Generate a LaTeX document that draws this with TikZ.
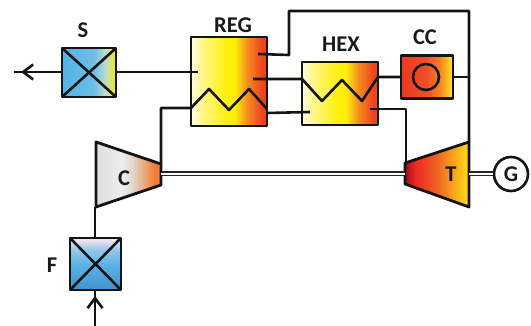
\documentclass[tikz,border=0pt]{standalone}
\usepackage{fontspec}
\setmainfont{Carlito}
\usetikzlibrary{arrows.meta}
\definecolor{hA}{RGB}{255,252,225}
\definecolor{hA2}{RGB}{255,246,130}
\definecolor{hB}{RGB}{255,240,10}
\definecolor{hC}{RGB}{255,236,10}
\definecolor{hO}{RGB}{245,140,30}
\definecolor{hD}{RGB}{238,65,30}
\definecolor{ccA}{RGB}{235,55,30}
\definecolor{ccB}{RGB}{240,80,40}
\definecolor{ccC}{RGB}{245,130,35}
\definecolor{ccD}{RGB}{255,235,20}
\definecolor{sA}{RGB}{80,180,230}
\definecolor{sB}{RGB}{110,190,230}
\definecolor{sC}{RGB}{190,220,200}
\definecolor{sD}{RGB}{240,235,20}
\definecolor{fA}{RGB}{65,145,205}
\definecolor{fB}{RGB}{90,180,230}
\definecolor{fC}{RGB}{150,200,235}
\definecolor{fD}{RGB}{240,225,240}
\definecolor{cA}{RGB}{222,222,222}
\definecolor{cB}{RGB}{238,238,238}
\definecolor{cC}{RGB}{225,215,205}
\definecolor{cD}{RGB}{240,125,50}
\definecolor{tA}{RGB}{160,15,25}
\definecolor{tB}{RGB}{235,40,35}
\definecolor{tC}{RGB}{240,100,35}
\definecolor{tD}{RGB}{255,225,20}
\pgfdeclarehorizontalshading{hotgrad}{100bp}{color(0bp)=(hA); color(25bp)=(hA); color(33bp)=(hA2); color(49bp)=(hB); color(54bp)=(hC); color(62bp)=(hO); color(72bp)=(hD); color(100bp)=(hD)}
\pgfdeclarehorizontalshading{ccgrad}{100bp}{color(0bp)=(ccA); color(25bp)=(ccA); color(50bp)=(ccB); color(62bp)=(ccC); color(75bp)=(ccD); color(100bp)=(ccD)}
\pgfdeclarehorizontalshading{sgrad}{100bp}{color(0bp)=(sA); color(25bp)=(sA); color(55bp)=(sB); color(65bp)=(sC); color(75bp)=(sD); color(100bp)=(sD)}
\pgfdeclareverticalshading{fgrad}{100bp}{color(0bp)=(fA); color(25bp)=(fA); color(50bp)=(fB); color(64bp)=(fC); color(73bp)=(fD); color(100bp)=(fD)}
\pgfdeclarehorizontalshading{cgrad}{100bp}{color(0bp)=(cA); color(25bp)=(cA); color(45bp)=(cB); color(53bp)=(cC); color(70bp)=(cD); color(75bp)=(cD); color(100bp)=(cD)}
\pgfdeclarehorizontalshading{tgrad}{100bp}{color(0bp)=(tA); color(25bp)=(tA); color(33bp)=(tB); color(50bp)=(tC); color(75bp)=(tD); color(100bp)=(tD)}
\tikzset{
  x=1pt,y=-1pt,
  wire/.style={line width=2.6pt,line join=round,black!92},
  box/.style={draw=black!92,line width=2.8pt,line join=round,inner sep=0pt,outer sep=0pt,shade},
  shaft/.style={double=white,double distance=2.4pt,line width=1.3pt,draw=black!85},
  lab/.style={font=\fontsize{22.5}{22.5}\selectfont\bfseries,inner sep=0pt,text=black!90},
  barb/.style={-{Straight Barb[length=10pt,width=15pt,line width=2.6pt]}},
}
\begin{document}
\begin{tikzpicture}
\useasboundingbox (0,0) rectangle (531,326);
% components
\node[box,shading=hotgrad,minimum width=76pt,minimum height=89pt] (reg) at (229,81.5) {};
\node[box,shading=hotgrad,minimum width=76pt,minimum height=63pt] (hex) at (340,93.5) {};
\node[box,shading=ccgrad,minimum width=52pt,minimum height=43pt] (cc) at (427,77) {};
\node[box,shading=sgrad,minimum width=54pt,minimum height=49pt] (sep) at (89,72.5) {};
\node[box,shading=fgrad,minimum width=51pt,minimum height=52pt] (fil) at (95.5,264) {};
\node[draw=black!92,line width=2.6pt,circle,minimum size=26pt,inner sep=0pt] (burner) at (426,77) {};
\node[draw=black!92,fill=white,line width=2.6pt,circle,minimum size=34pt,inner sep=0pt] (gen) at (511,174) {};
% turbomachines
\coordinate (c1) at (96,142); \coordinate (c2) at (161,164); \coordinate (c3) at (161,185); \coordinate (c4) at (96,207);
\coordinate (t1) at (405,163); \coordinate (t2) at (469,142); \coordinate (t3) at (469,207); \coordinate (t4) at (405,184);
\draw[box,shading=cgrad] (c1) -- (c2) -- (c3) -- (c4) -- cycle;
\draw[box,shading=tgrad] (t1) -- (t2) -- (t3) -- (t4) -- cycle;
% shafts
\coordinate (cs) at (161,174); \coordinate (ts) at (405,174); \coordinate (tg) at (469,174);
\draw[shaft] (cs) -- (ts);
\draw[shaft] (tg) -- (gen.west);
% crosses
\draw[wire] (sep.north west) -- (sep.south east) (sep.north east) -- (sep.south west);
\draw[wire] (fil.north west) -- (fil.south east) (fil.north east) -- (fil.south west);
% ports
\coordinate (sEnd) at (14,72); \coordinate (sTip) at (21,72);
\coordinate (sOut) at (116,72); \coordinate (sIn) at (62,72);
\coordinate (regA) at (198,72);
\coordinate (fBot) at (95,326); \coordinate (fTip) at (95,296); \coordinate (fLow) at (95,290);
\coordinate (fTop) at (95,238); \coordinate (cIn) at (95,207);
\coordinate (cOut) at (161,164); \coordinate (cK) at (161,108); \coordinate (regZ) at (191,108);
\coordinate (z1) at (209,89); \coordinate (z2) at (229,110); \coordinate (z3) at (249,89); \coordinate (regZe) at (267,109);
\coordinate (regO) at (267,113); \coordinate (hexI) at (310,112);
\coordinate (regH) at (253,79); \coordinate (hexZ) at (302,79);
\coordinate (y1) at (322,101); \coordinate (y2) at (342,80); \coordinate (y3) at (362,101); \coordinate (hexZe) at (378,77);
\coordinate (ccW) at (401,77); \coordinate (ccE) at (453,77); \coordinate (rj) at (469,77);
\coordinate (rt) at (469,11); \coordinate (lt) at (289,11); \coordinate (lb) at (289,55); \coordinate (regT) at (258,54);
\coordinate (hexO) at (370,109); \coordinate (hk) at (406,109); \coordinate (tIn) at (406,163);
% connectors
\draw[wire] (sOut) -- (regA);
\draw[wire] (sIn) -- (sEnd);
\draw[wire,barb] (sIn) -- (sTip);
\draw[wire] (fTop) -- (cIn);
\draw[wire] (fBot) -- (fLow);
\draw[wire,barb] (fBot) -- (fTip);
\draw[wire] (cOut) -- (cK) -- (regZ) -- (z1) -- (z2) -- (z3) -- (regZe);
\draw[wire] (regO) -- (hexI);
\draw[wire] (regH) -- (hexZ) -- (y1) -- (y2) -- (y3) -- (hexZe) -- (ccW);
\draw[wire] (ccE) -- (rj);
\draw[wire] (t2) -- (rt) -- (lt) -- (lb) -- (regT);
\draw[wire] (hexO) -- (hk) -- (tIn);
% labels
\node[lab] (lS) at (83,30) {S};
\node[lab] (lR) at (233,25) {REG};
\node[lab] (lH) at (341,44) {HEX};
\node[lab] (lCC) at (425,37) {CC};
\node[lab] (lC) at (124,178) {C};
\node[lab] (lT) at (451,174) {T};
\node[lab] (lG) at (511,174) {G};
\node[lab] (lF) at (52,265) {F};
\end{tikzpicture}
\end{document}
